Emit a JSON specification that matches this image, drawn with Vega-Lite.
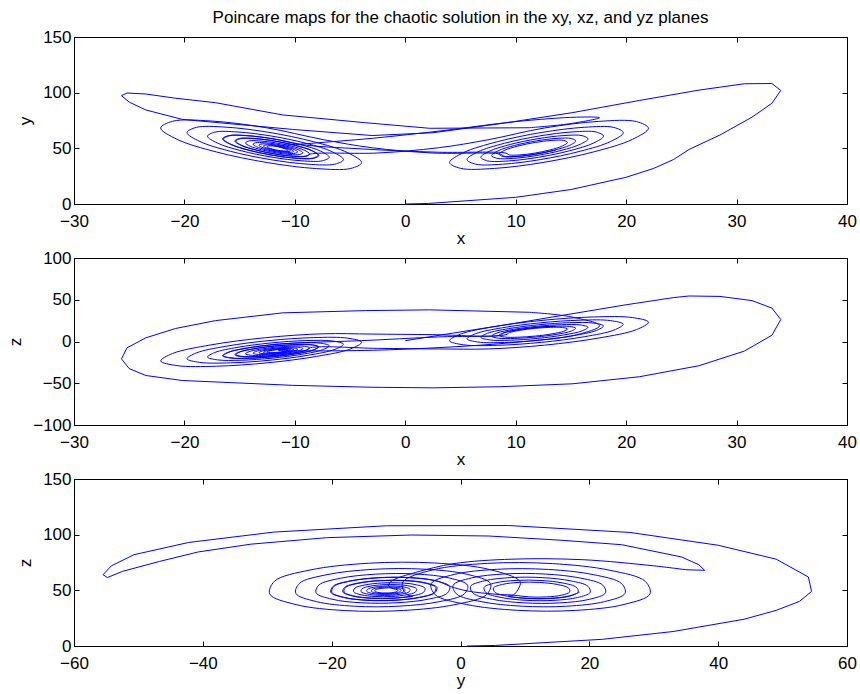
{
  "$schema": "https://vega.github.io/schema/vega-lite/v6.json",
  "background": "white",
  "padding": {"left": 6, "top": 8, "right": 5, "bottom": 5},
  "bounds": "flush",
  "spacing": 54,
  "config": {
    "view": {"stroke": "#000000", "strokeWidth": 1},
    "font": "Liberation Sans",
    "axis": {
      "domainColor": "#000000", "domainWidth": 1,
      "tickColor": "#000000", "tickSize": -5, "tickWidth": 1,
      "labelColor": "#000000", "labelFont": "Liberation Sans", "labelFontSize": 17,
      "titleColor": "#000000", "titleFont": "Liberation Sans", "titleFontSize": 17, "titleFontWeight": "normal",
      "labelFlush": false, "labelOverlap": false, "grid": false
    },
    "axisBottom": {"labelPadding": 14, "titlePadding": 1},
    "axisLeft": {"labelPadding": 8, "titlePadding": 8},
    "title": {"font": "Liberation Sans", "fontSize": 17, "fontWeight": "normal", "color": "#000000"}
  },
  "datasets": {
    "traj": [
      {"t":0,"x":0,"y":1,"z":0},{"t":1,"x":2.1,"y":5.4,"z":0.5},{"t":2,"x":10,"y":22,"z":6},{"t":3,"x":15,"y":33,"z":13},
      {"t":4,"x":20,"y":44,"z":24},{"t":5,"x":22.5,"y":49,"z":32},{"t":6,"x":24.3,"y":52.6,"z":40},{"t":7,"x":25.7,"y":54.5,"z":49},
      {"t":8,"x":28.5,"y":54,"z":62},{"t":9,"x":31.4,"y":49,"z":78},{"t":10,"x":33.2,"y":40,"z":90.5},{"t":11,"x":34,"y":26.3,"z":102},
      {"t":12,"x":33.2,"y":7.5,"z":108.2},{"t":13,"x":30.7,"y":-11.5,"z":108},{"t":14,"x":26.6,"y":-29,"z":102.3},{"t":15,"x":21.2,"y":-42.2,"z":93},
      {"t":16,"x":15.1,"y":-50.7,"z":82},{"t":17,"x":8.5,"y":-54.2,"z":72},{"t":18,"x":2.5,"y":-55.5,"z":64},{"t":19,"x":-3,"y":-54.8,"z":61.5},
      {"t":20,"x":-10.2,"y":-52.5,"z":67},{"t":21,"x":-20.2,"y":-46.7,"z":76},{"t":22,"x":-23.5,"y":-40.7,"z":84.5},{"t":23,"x":-25,"y":-32.5,"z":91.5},
      {"t":24,"x":-25.7,"y":-20.8,"z":97.3},{"t":25,"x":-25.2,"y":-7.6,"z":99.7},{"t":26,"x":-23.5,"y":4.4,"z":98.8},{"t":27,"x":-20.8,"y":15.6,"z":95},
      {"t":28,"x":-17.2,"y":25,"z":91},{"t":29,"x":-11.1,"y":34.3,"z":80},{"t":30,"x":-3.6,"y":37,"z":73},{"t":31,"x":2.2,"y":37.9,"z":68},
      {"t":32,"x":11.2,"y":35,"z":68.5},{"t":33,"x":14.8,"y":30,"z":72},{"t":34,"x":17.6,"y":19,"z":77.5},{"t":35,"x":15.5,"y":8,"z":78},
      {"t":36,"x":10,"y":-1,"z":74},{"t":37,"x":3.5,"y":-7,"z":66},{"t":38,"x":-3,"y":-10.5,"z":59},{"t":39,"x":-8.5,"y":-11.2,"z":54.5},
      {"t":40,"x":-11.5,"y":-10.6,"z":51.8},
      {"t":41,"x":-11.08,"y":-9.72,"z":50.18},{"t":42,"x":-10.75,"y":-9.79,"z":49.14},{"t":43,"x":-10.62,"y":-10.30,"z":48.21},{"t":44,"x":-10.72,"y":-11.13,"z":47.66},
      {"t":45,"x":-11.05,"y":-12.08,"z":47.65},{"t":46,"x":-11.51,"y":-12.88,"z":48.21},{"t":47,"x":-12.00,"y":-13.31,"z":49.21},{"t":48,"x":-12.37,"y":-13.23,"z":50.40},
      {"t":49,"x":-12.53,"y":-12.65,"z":51.46},{"t":50,"x":-12.41,"y":-11.70,"z":52.10},{"t":51,"x":-12.05,"y":-10.63,"z":52.12},{"t":52,"x":-11.53,"y":-9.72,"z":51.50},
      {"t":53,"x":-10.99,"y":-9.24,"z":50.37},{"t":54,"x":-10.57,"y":-9.33,"z":49.04},{"t":55,"x":-10.40,"y":-9.98,"z":47.84},{"t":56,"x":-10.53,"y":-11.06,"z":47.13},
      {"t":57,"x":-10.95,"y":-12.27,"z":47.12},{"t":58,"x":-11.55,"y":-13.30,"z":47.84},{"t":59,"x":-12.17,"y":-13.85,"z":49.13},{"t":60,"x":-12.65,"y":-13.75,"z":50.66},
      {"t":61,"x":-12.85,"y":-13.01,"z":52.02},{"t":62,"x":-12.70,"y":-11.79,"z":52.84},{"t":63,"x":-12.23,"y":-10.41,"z":52.87},{"t":64,"x":-11.56,"y":-9.25,"z":52.07},
      {"t":65,"x":-10.87,"y":-8.62,"z":50.62},{"t":66,"x":-10.33,"y":-8.73,"z":48.90},{"t":67,"x":-10.11,"y":-9.58,"z":47.37},{"t":68,"x":-10.28,"y":-10.96,"z":46.46},
      {"t":69,"x":-10.82,"y":-12.52,"z":46.44},{"t":70,"x":-11.59,"y":-13.84,"z":47.37},{"t":71,"x":-12.39,"y":-14.55,"z":49.03},{"t":72,"x":-13.00,"y":-14.42,"z":50.99},
      {"t":73,"x":-13.26,"y":-13.47,"z":52.74},{"t":74,"x":-13.07,"y":-11.90,"z":53.79},{"t":75,"x":-12.47,"y":-10.13,"z":53.83},{"t":76,"x":-11.61,"y":-8.63,"z":52.80},
      {"t":77,"x":-10.71,"y":-7.83,"z":50.94},{"t":78,"x":-10.03,"y":-7.97,"z":48.73},{"t":79,"x":-9.74,"y":-9.06,"z":46.77},{"t":80,"x":-9.97,"y":-10.83,"z":45.59},
      {"t":81,"x":-10.65,"y":-12.84,"z":45.57},{"t":82,"x":-11.64,"y":-14.54,"z":46.76},{"t":83,"x":-12.67,"y":-15.45,"z":48.89},{"t":84,"x":-13.46,"y":-15.28,"z":51.41},
      {"t":85,"x":-13.79,"y":-14.06,"z":53.67},{"t":86,"x":-13.55,"y":-12.04,"z":55.02},{"t":87,"x":-12.78,"y":-9.77,"z":55.07},{"t":88,"x":-11.67,"y":-7.85,"z":53.74},
      {"t":89,"x":-10.52,"y":-6.82,"z":51.35},{"t":90,"x":-9.63,"y":-7.00,"z":48.51},{"t":91,"x":-9.27,"y":-8.39,"z":45.99},{"t":92,"x":-9.56,"y":-10.67,"z":44.48},
      {"t":93,"x":-10.44,"y":-13.25,"z":44.45},{"t":94,"x":-11.71,"y":-15.43,"z":45.98},{"t":95,"x":-13.03,"y":-16.60,"z":48.72},{"t":96,"x":-14.05,"y":-16.39,"z":51.96},
      {"t":97,"x":-14.47,"y":-14.81,"z":54.85},{"t":98,"x":-14.16,"y":-12.23,"z":56.59},{"t":99,"x":-13.17,"y":-9.30,"z":56.65},{"t":100,"x":-11.75,"y":-6.83,"z":54.95},
      {"t":101,"x":-10.27,"y":-5.51,"z":51.88},{"t":102,"x":-9.13,"y":-5.74,"z":48.23},{"t":103,"x":-8.67,"y":-7.53,"z":44.98},{"t":104,"x":-9.03,"y":-10.46,"z":43.05},
      {"t":105,"x":-10.17,"y":-13.78,"z":43.01},{"t":106,"x":-11.80,"y":-16.58,"z":44.98},{"t":107,"x":-13.49,"y":-18.08,"z":48.49},{"t":108,"x":-14.80,"y":-17.81,"z":52.66},
      {"t":109,"x":-15.34,"y":-15.79,"z":56.38},{"t":110,"x":-14.95,"y":-12.46,"z":58.61},{"t":111,"x":-13.68,"y":-8.71,"z":58.69},{"t":112,"x":-11.85,"y":-5.53,"z":56.50},
      {"t":113,"x":-9.95,"y":-3.83,"z":52.55},{"t":114,"x":-8.48,"y":-4.13,"z":47.87},{"t":115,"x":-7.89,"y":-6.43,"z":43.70},{"t":116,"x":-8.36,"y":-10.19,"z":41.21},
      {"t":117,"x":-9.82,"y":-14.46,"z":41.16},{"t":118,"x":-11.91,"y":-18.06,"z":43.69},{"t":119,"x":-14.09,"y":-19.98,"z":48.21},{"t":120,"x":-15.77,"y":-19.64,"z":53.56},
      {"t":121,"x":-16.47,"y":-17.04,"z":58.34},{"t":122,"x":-15.96,"y":-12.77,"z":61.21},{"t":123,"x":-14.33,"y":-7.94,"z":61.31},{"t":124,"x":-11.98,"y":-3.86,"z":58.49},
      {"t":125,"x":-9.53,"y":-1.67,"z":53.43},{"t":126,"x":-7.65,"y":-2.06,"z":47.41},{"t":127,"x":-6.89,"y":-5.01,"z":42.04},{"t":128,"x":-7.49,"y":-9.85,"z":38.85},
      {"t":129,"x":-9.37,"y":-15.33,"z":38.78},{"t":130,"x":-12.06,"y":-19.95,"z":42.04},{"t":131,"x":-14.86,"y":-22.43,"z":47.84},{"t":132,"x":-17.01,"y":-21.99,"z":54.72},
      {"t":133,"x":-17.91,"y":-18.64,"z":60.86},{"t":134,"x":-17.25,"y":-13.16,"z":64.54},{"t":135,"x":-15.16,"y":-6.95,"z":64.68},{"t":136,"x":-12.14,"y":-1.71,"z":61.06},
      {"t":137,"x":-9.00,"y":1.10,"z":54.54},{"t":138,"x":-6.59,"y":0.60,"z":46.81},{"t":139,"x":-5.60,"y":-3.19,"z":39.92},{"t":140,"x":-6.38,"y":-9.41,"z":35.81},
      {"t":141,"x":-8.79,"y":-16.44,"z":35.73},{"t":142,"x":-12.24,"y":-22.39,"z":39.91},{"t":143,"x":-15.84,"y":-25.57,"z":47.36},{"t":144,"x":-18.61,"y":-25.01,"z":56.21},
      {"t":145,"x":-19.77,"y":-20.71,"z":64.10},{"t":146,"x":-18.92,"y":-13.66,"z":68.83},{"t":147,"x":-16.23,"y":-5.68,"z":69.01},{"t":148,"x":-12.35,"y":1.06,"z":64.35},
      {"t":149,"x":-8.31,"y":4.66,"z":55.98},{"t":150,"x":-5.21,"y":4.02,"z":46.04},{"t":151,"x":-3.95,"y":-0.85,"z":37.19},{"t":152,"x":-4.95,"y":-8.84,"z":31.92},
      {"t":153,"x":-8.05,"y":-17.88,"z":31.81},{"t":154,"x":-12.48,"y":-25.52,"z":37.18},{"t":155,"x":-17.11,"y":-29.61,"z":46.76},{"t":156,"x":-20.67,"y":-28.88,"z":58.12},
      {"t":157,"x":-22.15,"y":-23.36,"z":68.26},{"t":158,"x":-21.06,"y":-14.30,"z":74.33},{"t":159,"x":-17.60,"y":-4.05,"z":74.56},{"t":160,"x":-12.63,"y":4.60,"z":68.58},
      {"t":161,"x":-7.43,"y":9.25,"z":57.83},{"t":162,"x":-3.0,"y":8.9,"z":50.5},{"t":163,"x":2.5,"y":8.2,"z":45.8},
      {"t":164,"x":8.58,"y":7.41,"z":44.85},{"t":165,"x":8.96,"y":10.43,"z":42.86},{"t":166,"x":10.13,"y":13.85,"z":42.83},{"t":167,"x":11.81,"y":16.72,"z":44.85},
      {"t":168,"x":13.55,"y":18.26,"z":48.47},{"t":169,"x":14.89,"y":17.98,"z":52.75},{"t":170,"x":15.44,"y":15.90,"z":56.55},{"t":171,"x":15.03,"y":12.49,"z":58.84},
      {"t":172,"x":13.73,"y":8.64,"z":58.91},{"t":173,"x":11.86,"y":5.39,"z":56.66},{"t":174,"x":9.91,"y":3.66,"z":52.62},{"t":175,"x":8.42,"y":3.98,"z":47.84},
      {"t":176,"x":7.82,"y":6.32,"z":43.58},{"t":177,"x":8.30,"y":10.17,"z":41.04},{"t":178,"x":9.79,"y":14.51,"z":41.00},{"t":179,"x":11.92,"y":18.18,"z":43.59},
      {"t":180,"x":14.14,"y":20.13,"z":48.18},{"t":181,"x":15.84,"y":19.78,"z":53.63},{"t":182,"x":16.55,"y":17.13,"z":58.48},{"t":183,"x":16.02,"y":12.79,"z":61.38},
      {"t":184,"x":14.37,"y":7.89,"z":61.48},{"t":185,"x":11.99,"y":3.75,"z":58.61},{"t":186,"x":9.51,"y":1.55,"z":53.48},{"t":187,"x":7.61,"y":1.95,"z":47.38},
      {"t":188,"x":6.84,"y":4.94,"z":41.96},{"t":189,"x":7.45,"y":9.83,"z":38.74},{"t":190,"x":9.35,"y":15.36,"z":38.68},{"t":191,"x":12.06,"y":20.03,"z":41.97},
      {"t":192,"x":14.88,"y":22.52,"z":47.83},{"t":193,"x":17.05,"y":22.07,"z":54.76},{"t":194,"x":17.95,"y":18.69,"z":60.93},{"t":195,"x":17.29,"y":13.17,"z":64.63},
      {"t":196,"x":15.18,"y":6.93,"z":64.75},{"t":197,"x":12.15,"y":1.67,"z":61.10},{"t":198,"x":8.99,"y":-1.14,"z":54.56},{"t":199,"x":6.57,"y":-0.63,"z":46.80},
      {"t":200,"x":5.59,"y":3.18,"z":39.90},{"t":201,"x":6.38,"y":9.41,"z":35.80},{"t":202,"x":8.79,"y":16.44,"z":35.73},{"t":203,"x":12.24,"y":22.38,"z":39.91},
      {"t":204,"x":15.84,"y":25.55,"z":47.37},{"t":205,"x":18.60,"y":24.98,"z":56.19},{"t":206,"x":19.74,"y":20.68,"z":64.05},{"t":207,"x":18.89,"y":13.65,"z":68.76},
      {"t":208,"x":16.21,"y":5.71,"z":68.91},{"t":209,"x":12.35,"y":-0.99,"z":64.27},{"t":210,"x":8.33,"y":-4.56,"z":55.94},{"t":211,"x":5.26,"y":-3.92,"z":46.07},
      {"t":212,"x":4.01,"y":0.93,"z":37.28},{"t":213,"x":5.00,"y":8.86,"z":32.06},{"t":214,"x":8.08,"y":17.82,"z":31.97},{"t":215,"x":12.47,"y":25.38,"z":37.30},
      {"t":216,"x":17.05,"y":29.41,"z":46.79},{"t":217,"x":20.56,"y":28.68,"z":58.02},{"t":218,"x":22.02,"y":23.21,"z":68.02},{"t":219,"x":20.94,"y":14.26,"z":74.01},
      {"t":220,"x":17.52,"y":4.16,"z":74.21},{"t":221,"x":12.61,"y":-4.37,"z":68.30},{"t":222,"x":7.50,"y":-8.92,"z":57.70},
      {"t":223,"x":3.0,"y":-8.9,"z":50.5},{"t":224,"x":-2.5,"y":-8.2,"z":45.8},
      {"t":225,"x":-8.58,"y":-7.41,"z":44.85},{"t":226,"x":-8.96,"y":-10.43,"z":42.86},{"t":227,"x":-10.13,"y":-13.85,"z":42.83},{"t":228,"x":-11.81,"y":-16.72,"z":44.85},
      {"t":229,"x":-13.55,"y":-18.26,"z":48.47},{"t":230,"x":-14.89,"y":-17.98,"z":52.75},{"t":231,"x":-15.44,"y":-15.90,"z":56.55},{"t":232,"x":-15.03,"y":-12.49,"z":58.84},
      {"t":233,"x":-13.73,"y":-8.64,"z":58.91},{"t":234,"x":-11.86,"y":-5.39,"z":56.66},{"t":235,"x":-9.91,"y":-3.66,"z":52.62},{"t":236,"x":-8.42,"y":-3.98,"z":47.84},
      {"t":237,"x":-7.82,"y":-6.32,"z":43.58},{"t":238,"x":-8.30,"y":-10.17,"z":41.04},{"t":239,"x":-9.79,"y":-14.51,"z":41.00},{"t":240,"x":-11.92,"y":-18.18,"z":43.59},
      {"t":241,"x":-14.14,"y":-20.13,"z":48.18},{"t":242,"x":-15.84,"y":-19.78,"z":53.63},{"t":243,"x":-16.55,"y":-17.13,"z":58.48},{"t":244,"x":-16.02,"y":-12.79,"z":61.38},
      {"t":245,"x":-14.37,"y":-7.89,"z":61.48},{"t":246,"x":-11.99,"y":-3.75,"z":58.61},{"t":247,"x":-9.51,"y":-1.55,"z":53.48},
      {"t":248,"x":-4.0,"y":1.0,"z":49.5},{"t":249,"x":3.0,"y":5.5,"z":46.5},
      {"t":250,"x":9.11,"y":8.16,"z":45.72},{"t":251,"x":9.42,"y":10.61,"z":44.10},{"t":252,"x":10.37,"y":13.39,"z":44.08},{"t":253,"x":11.73,"y":15.73,"z":45.72},
      {"t":254,"x":13.15,"y":16.97,"z":48.66},{"t":255,"x":14.23,"y":16.75,"z":52.14},{"t":256,"x":14.69,"y":15.05,"z":55.23},{"t":257,"x":14.35,"y":12.29,"z":57.08},
      {"t":258,"x":13.29,"y":9.16,"z":57.14},{"t":259,"x":11.77,"y":6.52,"z":55.32},{"t":260,"x":10.19,"y":5.11,"z":52.04},{"t":261,"x":8.98,"y":5.37,"z":48.15},
      {"t":262,"x":8.49,"y":7.28,"z":44.69},{"t":263,"x":8.88,"y":10.40,"z":42.63},{"t":264,"x":10.09,"y":13.93,"z":42.60},{"t":265,"x":11.82,"y":16.90,"z":44.70},
      {"t":266,"x":13.62,"y":18.49,"z":48.43}
    ]
  },
  "data": {"name": "traj"},
  "vconcat": [
    {
      "width": 773, "height": 167,
      "title": {"text": "Poincare maps for the chaotic solution in the xy, xz, and yz planes", "frame": "group", "anchor": "middle", "offset": 1},
      "resolve": {"axis": {"x": "independent", "y": "independent"}},
      "layer": [
        {
          "transform": [{"filter": "datum.t <= 32"}],
          "mark": {"type": "line", "interpolate": "linear", "color": "#0000ff", "strokeWidth": 1},
          "encoding": {
            "x": {"field": "x", "type": "quantitative", "scale": {"domain": [-30, 40], "nice": false, "zero": false}, "axis": {"orient": "bottom", "title": "x", "values": [-30, -20, -10, 0, 10, 20, 30, 40]}},
            "y": {"field": "z", "type": "quantitative", "scale": {"domain": [0, 150], "nice": false, "zero": false}, "axis": {"orient": "left", "title": "y", "values": [0, 50, 100, 150]}},
            "order": {"field": "t", "type": "quantitative"}
          }
        },
        {
          "transform": [{"filter": "datum.t >= 32"}],
          "mark": {"type": "line", "interpolate": "catmull-rom", "color": "#0000ff", "strokeWidth": 1},
          "encoding": {
            "x": {"field": "x", "type": "quantitative", "scale": {"domain": [-30, 40], "nice": false, "zero": false}, "axis": {"orient": "top", "title": null, "labels": false, "values": [-30, -20, -10, 0, 10, 20, 30, 40]}},
            "y": {"field": "z", "type": "quantitative", "scale": {"domain": [0, 150], "nice": false, "zero": false}, "axis": {"orient": "right", "title": null, "labels": false, "values": [0, 50, 100, 150]}},
            "order": {"field": "t", "type": "quantitative"}
          }
        }
      ]
    },
    {
      "width": 773, "height": 167,
      "resolve": {"axis": {"x": "independent", "y": "independent"}},
      "layer": [
        {
          "transform": [{"filter": "datum.t <= 32"}],
          "mark": {"type": "line", "interpolate": "linear", "color": "#0000ff", "strokeWidth": 1},
          "encoding": {
            "x": {"field": "x", "type": "quantitative", "scale": {"domain": [-30, 40], "nice": false, "zero": false}, "axis": {"orient": "bottom", "title": "x", "values": [-30, -20, -10, 0, 10, 20, 30, 40]}},
            "y": {"field": "y", "type": "quantitative", "scale": {"domain": [-100, 100], "nice": false, "zero": false}, "axis": {"orient": "left", "title": "z", "values": [-100, -50, 0, 50, 100]}},
            "order": {"field": "t", "type": "quantitative"}
          }
        },
        {
          "transform": [{"filter": "datum.t >= 32"}],
          "mark": {"type": "line", "interpolate": "catmull-rom", "color": "#0000ff", "strokeWidth": 1},
          "encoding": {
            "x": {"field": "x", "type": "quantitative", "scale": {"domain": [-30, 40], "nice": false, "zero": false}, "axis": {"orient": "top", "title": null, "labels": false, "values": [-30, -20, -10, 0, 10, 20, 30, 40]}},
            "y": {"field": "y", "type": "quantitative", "scale": {"domain": [-100, 100], "nice": false, "zero": false}, "axis": {"orient": "right", "title": null, "labels": false, "values": [-100, -50, 0, 50, 100]}},
            "order": {"field": "t", "type": "quantitative"}
          }
        }
      ]
    },
    {
      "width": 773, "height": 167,
      "resolve": {"axis": {"x": "independent", "y": "independent"}},
      "layer": [
        {
          "transform": [{"filter": "datum.t <= 32"}],
          "mark": {"type": "line", "interpolate": "linear", "color": "#0000ff", "strokeWidth": 1},
          "encoding": {
            "x": {"field": "y", "type": "quantitative", "scale": {"domain": [-60, 60], "nice": false, "zero": false}, "axis": {"orient": "bottom", "title": "y", "values": [-60, -40, -20, 0, 20, 40, 60]}},
            "y": {"field": "z", "type": "quantitative", "scale": {"domain": [0, 150], "nice": false, "zero": false}, "axis": {"orient": "left", "title": "z", "values": [0, 50, 100, 150]}},
            "order": {"field": "t", "type": "quantitative"}
          }
        },
        {
          "transform": [{"filter": "datum.t >= 32"}],
          "mark": {"type": "line", "interpolate": "catmull-rom", "color": "#0000ff", "strokeWidth": 1},
          "encoding": {
            "x": {"field": "y", "type": "quantitative", "scale": {"domain": [-60, 60], "nice": false, "zero": false}, "axis": {"orient": "top", "title": null, "labels": false, "values": [-60, -40, -20, 0, 20, 40, 60]}},
            "y": {"field": "z", "type": "quantitative", "scale": {"domain": [0, 150], "nice": false, "zero": false}, "axis": {"orient": "right", "title": null, "labels": false, "values": [0, 50, 100, 150]}},
            "order": {"field": "t", "type": "quantitative"}
          }
        }
      ]
    }
  ]
}
